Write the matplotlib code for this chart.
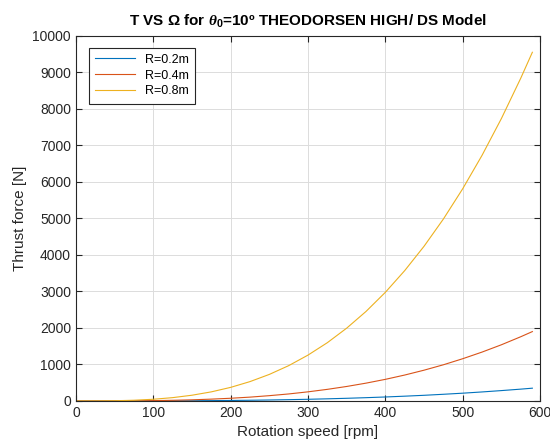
import matplotlib
matplotlib.use('Agg')
import matplotlib.pyplot as plt

plt.rcParams['font.family'] = ['Liberation Sans', 'DejaVu Sans']
plt.rcParams['mathtext.fontset'] = 'custom'
plt.rcParams['mathtext.it'] = 'Liberation Serif:italic:bold'
plt.rcParams['mathtext.rm'] = 'Liberation Sans:bold'

rpm = [0, 25, 50, 75, 100, 125, 150, 175, 200, 225, 250, 275, 300,
       325, 350, 375, 400, 425, 450, 475, 500, 525, 550, 575, 590]
t_r02 = [0, 0.03, 0.2, 0.7, 1.7, 3.3, 5.8, 9.1, 13.6, 19.4, 26.6, 35.4, 46,
         58.5, 73, 90, 109, 131, 155, 183, 213, 247, 284, 324, 350]
t_r04 = [0, 0.15, 1.2, 3.9, 9.3, 18, 31, 50, 74, 105, 145, 192, 250,
         318, 397, 488, 592, 710, 843, 991, 1157, 1339, 1539, 1759, 1900]
t_r08 = [0, 0.7, 5.8, 19.6, 46.5, 91, 157, 249, 372, 530, 727, 967, 1256,
         1596, 1994, 2452, 2976, 3570, 4237, 4983, 5813, 6729, 7736, 8840, 9550]
labels = ['R=0.2m', 'R=0.4m', 'R=0.8m']
colors = ['#0072BD', '#D95319', '#EDB120']

fig = plt.figure(figsize=(5.5, 4.48), dpi=100)
ax = fig.add_axes([0.138, 0.105, 0.844, 0.815])
for t, lab, c in zip([t_r02, t_r04, t_r08], labels, colors):
    ax.plot(rpm, t, color=c, lw=0.8, label=lab)

ax.set_xlim(0, 600)
ax.set_ylim(0, 10000)
ax.set_xticks(range(0, 601, 100))
ax.set_yticks(range(0, 10001, 1000))
ax.grid(True, color='#dcdcdc', lw=0.7)
ax.tick_params(direction='in', top=True, right=True, labelsize=10, length=4,
               colors='#262626')
for s in ax.spines.values():
    s.set_color('#262626')
    s.set_linewidth(0.8)
ax.set_xlabel('Rotation speed [rpm]', fontsize=11, color='#262626')
ax.set_ylabel('Thrust force [N]', fontsize=11, color='#262626')
ax.set_title('T VS \u03A9 for $\\theta_0$=10\u00ba THEODORSEN HIGH/ DS Model',
             fontsize=11, fontweight='bold', pad=7)
leg = ax.legend(loc='upper left', fontsize=9, fancybox=False, framealpha=1,
                edgecolor='#262626', handlelength=3.2, borderpad=0.5,
                labelspacing=0.3, bbox_to_anchor=(0.015, 0.985))
leg.get_frame().set_linewidth(0.8)

fig.savefig('out.png', dpi=100)
